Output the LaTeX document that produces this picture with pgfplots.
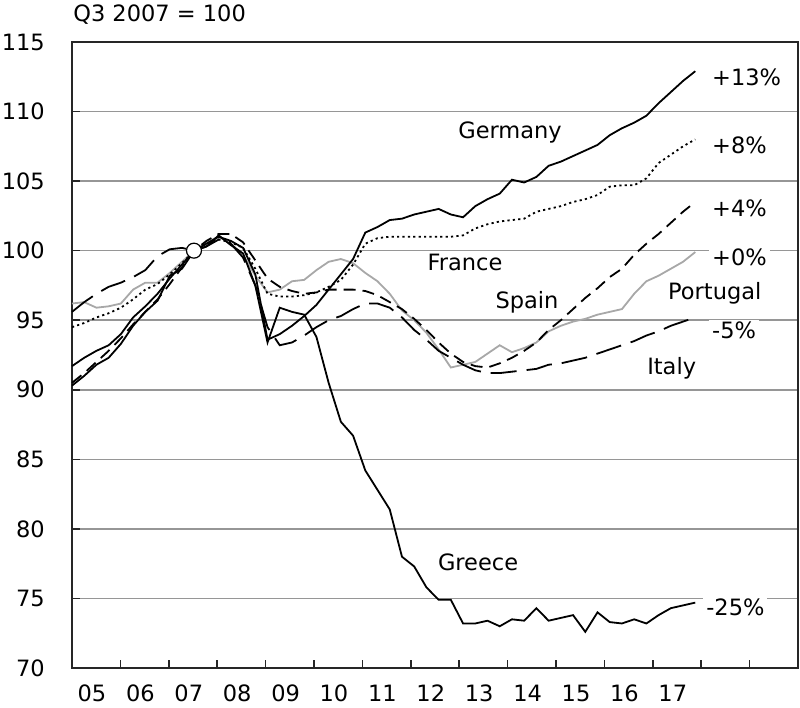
\documentclass[border=0pt]{standalone}
\usepackage{pgfplots}
\pgfplotsset{compat=1.18}
\usepackage{pgfplotstable}
\usepackage{fontspec}
\setmainfont{DejaVu Sans}
\definecolor{gridgray}{RGB}{150,150,150}
\definecolor{portgray}{RGB}{168,168,168}

% quarterly index t = 0 (2005 Q1) ... 51 (2017 Q4); Q3 2007 = 100
\pgfplotstableread{
t de fr es pt it gr
0 91.7 94.5 90.5 96.2 95.6 90.3
1 92.3 94.8 91.2 96.3 96.3 91.0
2 92.8 95.2 92.0 95.9 96.9 91.8
3 93.2 95.5 92.8 96.0 97.4 92.3
4 94.0 95.9 93.7 96.2 97.7 93.3
5 95.2 96.5 94.7 97.2 98.1 94.6
6 96.0 97.2 95.6 97.7 98.6 95.6
7 96.9 97.6 96.5 97.7 99.6 96.4
8 98.0 98.3 97.6 98.4 100.1 98.2
9 99.0 99.1 98.8 99.2 100.2 98.7
10 100.0 100.0 100.0 100.0 100.0 100.0
11 100.5 100.5 100.7 100.6 100.3 100.3
12 101.0 100.8 101.2 101.0 100.8 101.1
13 100.7 100.6 101.2 100.5 100.5 100.4
14 100.2 100.2 100.6 99.7 99.5 99.8
15 98.3 98.7 99.3 98.2 97.5 97.5
16 93.6 96.9 98.0 97.0 94.5 93.4
17 94.0 96.7 97.4 97.2 93.2 95.9
18 94.6 96.7 97.1 97.8 93.4 95.6
19 95.3 96.8 96.9 97.9 93.9 95.4
20 96.1 97.0 97.0 98.6 94.5 93.8
21 97.2 97.4 97.2 99.2 95.0 90.5
22 98.3 97.9 97.2 99.4 95.3 87.7
23 99.4 99.0 97.2 99.1 95.8 86.7
24 101.3 100.5 97.1 98.4 96.2 84.2
25 101.7 100.9 96.8 97.8 96.2 82.8
26 102.2 101.0 96.3 96.9 95.9 81.4
27 102.3 101.0 95.8 95.7 95.2 78.0
28 102.6 101.0 95.1 95.0 94.3 77.3
29 102.8 101.0 94.3 94.1 93.6 75.8
30 103.0 101.0 93.4 92.9 92.8 74.9
31 102.6 101.0 92.6 91.6 92.3 74.9
32 102.4 101.1 92.0 91.8 91.8 73.2
33 103.2 101.6 91.7 92.0 91.4 73.2
34 103.7 101.9 91.6 92.6 91.2 73.4
35 104.1 102.1 91.9 93.2 91.2 73.0
36 105.1 102.2 92.3 92.7 91.3 73.5
37 104.9 102.3 92.8 93.0 91.4 73.4
38 105.3 102.8 93.4 93.4 91.5 74.3
39 106.1 103.0 94.3 94.2 91.8 73.4
40 106.4 103.2 95.0 94.6 91.9 73.6
41 106.8 103.5 95.8 94.9 92.1 73.8
42 107.2 103.7 96.6 95.1 92.3 72.6
43 107.6 104.0 97.3 95.4 92.6 74.0
44 108.3 104.6 98.1 95.6 92.9 73.3
45 108.8 104.7 98.7 95.8 93.2 73.2
46 109.2 104.7 99.7 96.9 93.5 73.5
47 109.7 105.2 100.5 97.8 93.9 73.2
48 110.6 106.3 101.2 98.2 94.2 73.8
49 111.4 106.9 102.0 98.7 94.6 74.3
50 112.2 107.5 102.8 99.2 94.9 74.5
51 112.9 108.0 103.5 99.9 95.2 74.7
}\gdpdata

\newcommand{\lbl}{\fontsize{22.5}{27}\selectfont}

\begin{document}
\begin{tikzpicture}
\begin{axis}[
  scale only axis,
  width=726pt, height=626pt,
  xmin=2005, xmax=2020,
  ymin=70, ymax=115,
  clip=false,
  axis line style={line width=2.2pt, draw=black!85},
  ytick={70,75,...,115},
  xtick={2005,2006,...,2019},
  xticklabels={05,06,07,08,09,10,11,12,13,14,15,16,17,{},{}},
  tick pos=left,
  tick align=inside,
  major tick length=8pt,
  tick style={line width=1.6pt, black!85},
  ymajorgrids,
  grid style={line width=1.6pt, gridgray},
  /pgf/number format/assume math mode=true,
  tick label style={font=\lbl},
  yticklabel style={inner sep=0pt, xshift=-27pt},
  xticklabel style={inner sep=0pt, anchor=north, xshift=20pt, yshift=-17pt},
  every node near coord/.style={},
]
\addplot[portgray, line width=1.8pt] table[x expr=2005+0.2525*\thisrow{t}, y=pt] {\gdpdata};
\addplot[black, line width=1.8pt] table[x expr=2005+0.2525*\thisrow{t}, y=de] {\gdpdata};
\addplot[black, line width=1.8pt, dash pattern=on 2.2pt off 3.2pt] table[x expr=2005+0.2525*\thisrow{t}, y=fr] {\gdpdata};
\addplot[black, line width=1.8pt, dash pattern=on 12pt off 7pt] table[x expr=2005+0.2525*\thisrow{t}, y=es] {\gdpdata};
\addplot[black, line width=1.8pt, dash pattern=on 26pt off 10pt] table[x expr=2005+0.2525*\thisrow{t}, y=it] {\gdpdata};
\addplot[black, line width=1.8pt] table[x expr=2005+0.2525*\thisrow{t}, y=gr] {\gdpdata};
\addplot[only marks, mark=*, mark size=7.5pt, mark options={fill=white, draw=black, line width=1.2pt}] coordinates {(2007.52,100)};

\node[font=\lbl] at (axis cs:2006.81,116.94) {Q3 2007 = 100};
\node[font=\lbl, fill=white, inner xsep=2pt, inner ysep=1pt] at (axis cs:2014.05,108.46) {Germany};
\node[font=\lbl, fill=white, inner xsep=2pt, inner ysep=1pt] at (axis cs:2013.12,99.18) {France};
\node[font=\lbl, fill=white, inner xsep=2pt, inner ysep=1pt] at (axis cs:2014.40,96.31) {Spain};
\node[font=\lbl, fill=white, inner xsep=2pt, inner ysep=1pt] at (axis cs:2018.28,96.96) {Portugal};
\node[font=\lbl, fill=white, inner xsep=2pt, inner ysep=1pt] at (axis cs:2017.39,91.56) {Italy};
\node[font=\lbl, fill=white, inner xsep=2pt, inner ysep=1pt] at (axis cs:2013.39,77.62) {Greece};
\node[font=\lbl, fill=white, anchor=west, inner xsep=3pt, inner ysep=1pt] at (axis cs:2018.16,112.48) {+13\%};
\node[font=\lbl, fill=white, anchor=west, inner xsep=3pt, inner ysep=1pt] at (axis cs:2018.16,107.6) {+8\%};
\node[font=\lbl, fill=white, anchor=west, inner xsep=3pt, inner ysep=1pt] at (axis cs:2018.16,103.07) {+4\%};
\node[font=\lbl, fill=white, anchor=west, inner xsep=3pt, inner ysep=1pt] at (axis cs:2018.16,99.54) {+0\%};
\node[font=\lbl, fill=white, anchor=west, inner xsep=3pt, inner ysep=1pt] at (axis cs:2018.16,94.30) {-5\%};
\node[font=\lbl, fill=white, anchor=west, inner xsep=3pt, inner ysep=1pt] at (axis cs:2018.04,74.38) {-25\%};

\coordinate (sw) at (rel axis cs:0,0);
\coordinate (ne) at (rel axis cs:1,1);
\end{axis}
\pgfresetboundingbox
\path[use as bounding box] ([xshift=-72pt,yshift=-40pt]sw) rectangle ([xshift=2pt,yshift=42pt]ne);
\end{tikzpicture}
\end{document}
